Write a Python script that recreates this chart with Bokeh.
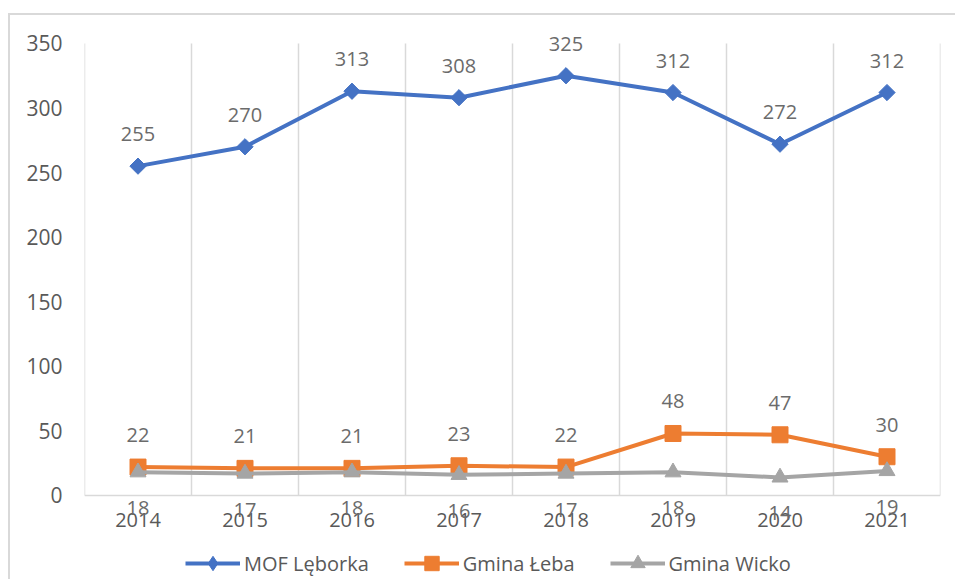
import math
from bokeh.plotting import figure
from bokeh.models import ColumnDataSource, FixedTicker, Legend, LegendItem, LabelSet, Range1d
from bokeh.core.properties import value
from bokeh.embed import file_html
from bokeh.resources import INLINE

years = ["2014", "2015", "2016", "2017", "2018", "2019", "2020", "2021"]
mof = [255, 270, 313, 308, 325, 312, 272, 312]
leba = [22, 21, 21, 23, 22, 48, 47, 30]
wicko = [18, 17, 18, 16, 17, 18, 14, 19]
series_names = ["MOF Lęborka", "Gmina Łeba", "Gmina Wicko"]
y_ticks = [0, 50, 100, 150, 200, 250, 300, 350]

FONT = "Open Sans"
AXIS_COLOR = "#595959"
LABEL_COLOR = "#6b6b6b"
GRID_COLOR = "#d9d9d9"
BLUE, ORANGE, GRAY = "#4472C4", "#ED7D31", "#A5A5A5"

xs = list(range(len(years)))
src = ColumnDataSource(dict(
    x=xs, mof=mof, leba=leba, wicko=wicko,
    mof_t=[str(v) for v in mof], leba_t=[str(v) for v in leba], wicko_t=[str(v) for v in wicko],
))

# frame spans whole lower area so labels below the axis and the legend are not clipped
p = figure(width=947, height=566, output_backend="svg", toolbar_location=None,
           x_range=Range1d(-0.5, len(years) - 0.5), y_range=Range1d(-66.6, 370.1),
           min_border_left=74, min_border_right=17, min_border_top=2, min_border_bottom=0)
p.styles = {"border-top": "2px solid #d9d9d9", "border-left": "2px solid #d9d9d9",
            "margin-top": "13px", "margin-left": "8px"}
p.outline_line_color = None
p.background_fill_color = "white"
p.grid.visible = False

# vertical category separators between 0 and the top tick
sep_x = [i - 0.5 for i in range(len(years) + 1)]
p.segment(x0=sep_x, y0=[y_ticks[0]] * len(sep_x), x1=sep_x, y1=[y_ticks[-1]] * len(sep_x),
          line_color=GRID_COLOR, line_width=1.5)

# x axis drawn at value 0
p.xaxis.fixed_location = 0
p.xaxis.ticker = FixedTicker(ticks=xs)
p.xaxis.major_label_overrides = {i: y for i, y in enumerate(years)}
p.xaxis.axis_line_color = GRID_COLOR
p.xaxis.axis_line_width = 1.5
p.xaxis.major_tick_line_color = None
p.xaxis.minor_tick_line_color = None
p.xaxis.major_label_standoff = 12
p.xaxis.major_label_text_font = FONT
p.xaxis.major_label_text_font_size = "20px"
p.xaxis.major_label_text_color = AXIS_COLOR

# y axis
p.yaxis.ticker = FixedTicker(ticks=y_ticks)
p.yaxis.axis_line_color = None
p.yaxis.major_tick_line_color = None
p.yaxis.minor_tick_line_color = None
p.yaxis.major_label_standoff = 16
p.yaxis.major_label_text_font = FONT
p.yaxis.major_label_text_font_size = "21px"
p.yaxis.major_label_text_color = AXIS_COLOR

l1 = p.line("x", "mof", source=src, line_color=BLUE, line_width=4)
m1 = p.scatter("x", "mof", source=src, marker="square", angle=math.pi / 4, size=11.5,
               fill_color=BLUE, line_color=BLUE)
# diamond shape used only for the legend swatch
m1_leg = p.scatter("x", "mof", source=src, marker="diamond", size=14,
                   fill_color=BLUE, line_color=BLUE, visible=False)
l2 = p.line("x", "leba", source=src, line_color=ORANGE, line_width=4)
m2 = p.scatter("x", "leba", source=src, marker="square", size=16, fill_color=ORANGE, line_color=ORANGE)
l3 = p.line("x", "wicko", source=src, line_color=GRAY, line_width=4)
m3 = p.scatter("x", "wicko", source=src, marker="triangle", size=16, fill_color=GRAY, line_color=GRAY)

for col, off in (("mof", 32), ("leba", 32), ("wicko", -36)):
    p.add_layout(LabelSet(x="x", y=col, text=col + "_t", source=src, y_offset=off,
                          text_align="center", text_baseline="middle",
                          text_font=value(FONT), text_font_size="20px", text_color=LABEL_COLOR))

legend = Legend(items=[
    LegendItem(label=series_names[0], renderers=[l1, m1_leg]),
    LegendItem(label=series_names[1], renderers=[l2, m2]),
    LegendItem(label=series_names[2], renderers=[l3, m3]),
], orientation="horizontal", location=(101, 0))
legend.border_line_color = None
legend.background_fill_alpha = 0
legend.inactive_fill_alpha = 0
legend.padding = 0
legend.margin = 0
legend.glyph_width = 55
legend.glyph_height = 36
legend.label_height = 36
legend.label_standoff = 4
legend.spacing = 35
legend.label_text_font = FONT
legend.label_text_font_size = "20px"
legend.label_text_color = AXIS_COLOR
p.add_layout(legend, "center")

open("out.html", "w").write(file_html(p, INLINE))
